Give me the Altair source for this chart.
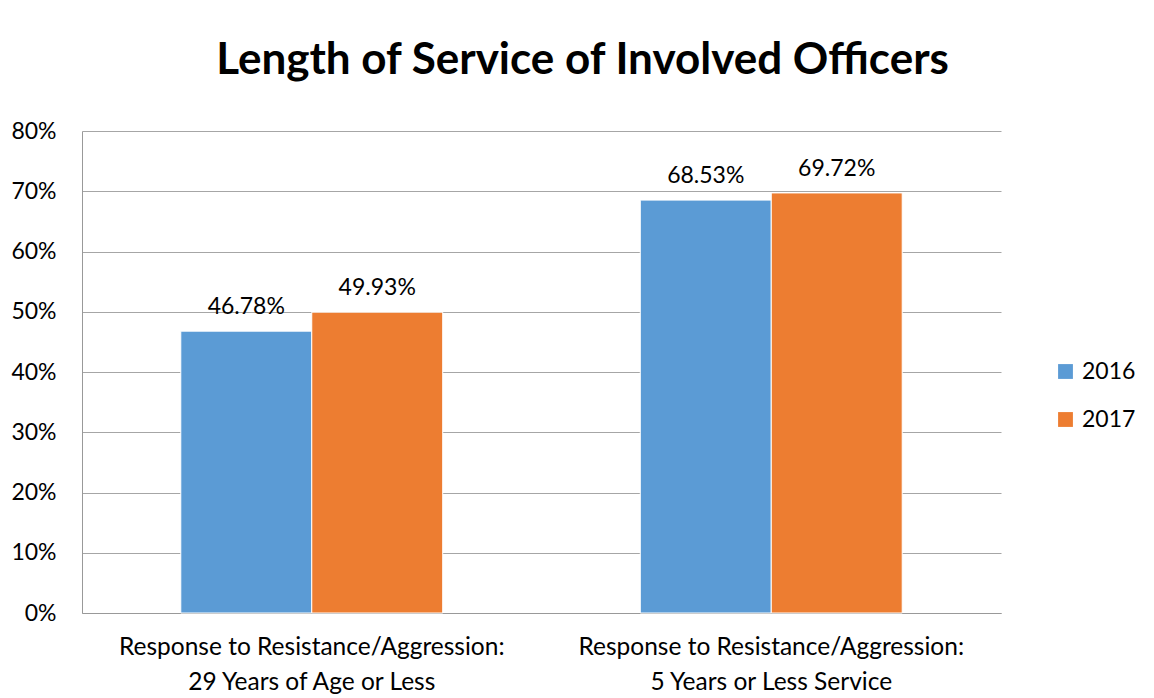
import altair as alt
import pandas as pd

categories = ["Response to Resistance/Aggression:\n29 Years of Age or Less",
              "Response to Resistance/Aggression:\n5 Years or Less Service"]
years = ["2016", "2017"]
values_2016 = [0.4678, 0.6853]
values_2017 = [0.4993, 0.6972]
colors = ["#5B9BD5", "#ED7D31"]

rows = []
for c, v16, v17 in zip(categories, values_2016, values_2017):
    rows.append({"cat": c, "year": "2016", "value": v16})
    rows.append({"cat": c, "year": "2017", "value": v17})
df = pd.DataFrame(rows)

FONT = "Lato"

base = alt.Chart(df).encode(
    x=alt.X("cat:N", sort=categories, title=None,
            scale=alt.Scale(paddingInner=0.43, paddingOuter=0.215),
            axis=alt.Axis(labelAngle=0, labelFontSize=24.5, labelFont=FONT, labelColor="#000",
                          labelPadding=22, labelLineHeight=35, ticks=False, labelLimit=0,
                          domainColor="#999", labelExpr="split(datum.label, '\\n')")),
    xOffset=alt.XOffset("year:N", sort=years, scale=alt.Scale(paddingInner=0, paddingOuter=0)),
)

bars = base.mark_bar(stroke="white", strokeWidth=1).encode(
    y=alt.Y("value:Q", title=None,
            scale=alt.Scale(domain=[0, 0.8], nice=False),
            axis=alt.Axis(format=".0%", values=[0, .1, .2, .3, .4, .5, .6, .7, .8],
                          labelFontSize=23, labelFont=FONT, labelColor="#000",
                          labelPadding=26, ticks=False, domainColor="#999",
                          gridColor="#a6a6a6", grid=True)),
    color=alt.Color("year:N", sort=years, title=None,
                    scale=alt.Scale(domain=years, range=colors),
                    legend=alt.Legend(orient="none", legendX=972, legendY=229,
                                      symbolType="square", symbolSize=220,
                                      symbolStrokeWidth=0, labelFontSize=23,
                                      labelFont=FONT, labelColor="#000",
                                      rowPadding=24, labelOffset=5)),
)

labels = base.mark_text(dy=-12, fontSize=23, font=FONT, color="#000", baseline="bottom").encode(
    y=alt.Y("value:Q"),
    text=alt.Text("value:Q", format=".2%"),
)

chart = alt.layer(bars, labels).properties(
    width=919, height=482,
    autosize=alt.AutoSizeParams(type="none"),
    padding={"left": 74, "top": 123, "right": 145, "bottom": 85},
    title=alt.Title("Length of Service of Involved Officers", fontSize=44, font=FONT,
                    fontWeight="bold", color="#000", anchor="middle", dx=41, offset=37),
).configure_view(stroke=None).configure_axis(gridColor="#a6a6a6")

chart.save("out.html", embed_options={"renderer": "svg", "actions": False})
